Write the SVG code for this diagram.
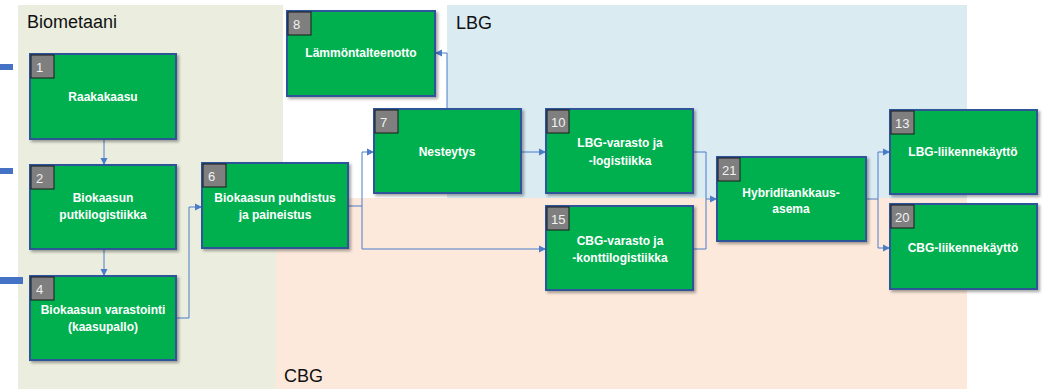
<svg xmlns="http://www.w3.org/2000/svg" width="1054" height="389" viewBox="0 0 1054 389">
<defs>
<style>
.node rect.box{fill:#00B050;stroke:#2F5597;stroke-width:2;filter:url(#sh)}
.node rect.num{fill:#7F7F7F;stroke:#1a1a1a;stroke-width:1}
.node text.n{font-family:"Liberation Sans",Arial,sans-serif;font-size:13px;fill:#F2F2F2}
.node text.l{font-family:"Liberation Sans",Arial,sans-serif;font-size:12px;font-weight:bold;fill:#FFFFFF;text-anchor:middle}
.grp{font-family:"Liberation Sans",Arial,sans-serif;font-size:18px;fill:#111}
#connectors path{fill:none;stroke:#4A7CC8;stroke-width:1;marker-end:url(#ar)}
#connectors path.join{marker-end:none}
</style>
<filter id="sh" x="-10%" y="-10%" width="125%" height="130%">
<feDropShadow dx="2" dy="2" stdDeviation="1.5" flood-color="#000" flood-opacity="0.35"/>
</filter>
<marker id="ar" markerUnits="userSpaceOnUse" markerWidth="8" markerHeight="8" refX="7" refY="4" orient="auto">
<path d="M0,0.5 L7,4 L0,7.5 Z" fill="#4A7CC8"/>
</marker>
</defs>
<rect width="1054" height="389" fill="#FFFFFF"/>
<g id="regions">
<rect x="18" y="5" width="265" height="384" fill="#EBEEDF"/>
<rect x="447" y="5" width="520" height="193" fill="#DAEBF2"/>
<rect x="276" y="198" width="691" height="191" fill="#FCE9DB"/>
<rect x="0" y="64" width="13" height="6" fill="#4472C4"/>
<rect x="0" y="168" width="13" height="6" fill="#4472C4"/>
<rect x="0" y="277" width="23" height="7" fill="#4472C4"/>
<text class="grp" x="27" y="28">Biometaani</text>
<text class="grp" x="456" y="29">LBG</text>
<text class="grp" x="284" y="382">CBG</text>
</g>
<g id="connectors">
<path d="M104,139 V165"/>
<path d="M104,249 V276"/>
<path d="M176,318 H189 V207 H202"/>
<path d="M348,206 H362 V152 H374"/>
<path d="M362,206 V249 H546"/>
<path d="M447,109 V53 H435"/>
<path d="M521,152 H546"/>
<path d="M693,152 H706 V199 H717"/>
<path class="join" d="M693,249 H706 V199"/>
<path d="M866,199 H878 V152 H890"/>
<path d="M878,199 V248 H890"/>
</g>
<g id="node1" class="node"><rect class="box" x="30" y="54" width="146" height="85"/><rect class="num" x="31" y="55" width="23" height="23"/><text class="n" x="36" y="72">1</text><text class="l" x="103" y="101">Raakakaasu</text></g>
<g id="node2" class="node"><rect class="box" x="30" y="165" width="146" height="84"/><rect class="num" x="31" y="166" width="23" height="23"/><text class="n" x="36" y="183">2</text><text class="l" x="103" y="202">Biokaasun</text><text class="l" x="103" y="219">putkilogistiikka</text></g>
<g id="node4" class="node"><rect class="box" x="30" y="276" width="146" height="84"/><rect class="num" x="31" y="277" width="23" height="23"/><text class="n" x="36" y="294">4</text><text class="l" x="103" y="314">Biokaasun varastointi</text><text class="l" x="103" y="331">(kaasupallo)</text></g>
<g id="node6" class="node"><rect class="box" x="202" y="163" width="146" height="85"/><rect class="num" x="203" y="164" width="23" height="23"/><text class="n" x="208" y="181">6</text><text class="l" x="275" y="202">Biokaasun puhdistus</text><text class="l" x="275" y="219">ja paineistus</text></g>
<g id="node8" class="node"><rect class="box" x="287" y="11" width="148" height="85"/><rect class="num" x="288" y="12" width="23" height="23"/><text class="n" x="293" y="29">8</text><text class="l" x="361" y="57">Lämmöntalteenotto</text></g>
<g id="node7" class="node"><rect class="box" x="374" y="109" width="147" height="84"/><rect class="num" x="375" y="110" width="23" height="23"/><text class="n" x="380" y="127">7</text><text class="l" x="447" y="156">Nesteytys</text></g>
<g id="node10" class="node"><rect class="box" x="546" y="109" width="147" height="84"/><rect class="num" x="547" y="110" width="22" height="23"/><text class="n" x="551" y="127">10</text><text class="l" x="620" y="147">LBG-varasto ja</text><text class="l" x="620" y="165">-logistiikka</text></g>
<g id="node15" class="node"><rect class="box" x="546" y="206" width="147" height="84"/><rect class="num" x="547" y="207" width="22" height="23"/><text class="n" x="551" y="224">15</text><text class="l" x="620" y="245">CBG-varasto ja</text><text class="l" x="620" y="262">-konttilogistiikka</text></g>
<g id="node21" class="node"><rect class="box" x="717" y="157" width="149" height="84"/><rect class="num" x="718" y="158" width="22" height="23"/><text class="n" x="722" y="175">21</text><text class="l" x="791" y="197">Hybriditankkaus-</text><text class="l" x="791" y="213">asema</text></g>
<g id="node13" class="node"><rect class="box" x="890" y="110" width="147" height="84"/><rect class="num" x="891" y="111" width="23" height="23"/><text class="n" x="895" y="128">13</text><text class="l" x="963" y="156">LBG-liikennekäyttö</text></g>
<g id="node20" class="node"><rect class="box" x="890" y="204" width="147" height="85"/><rect class="num" x="891" y="205" width="23" height="23"/><text class="n" x="895" y="222">20</text><text class="l" x="963" y="252">CBG-liikennekäyttö</text></g>
</svg>
